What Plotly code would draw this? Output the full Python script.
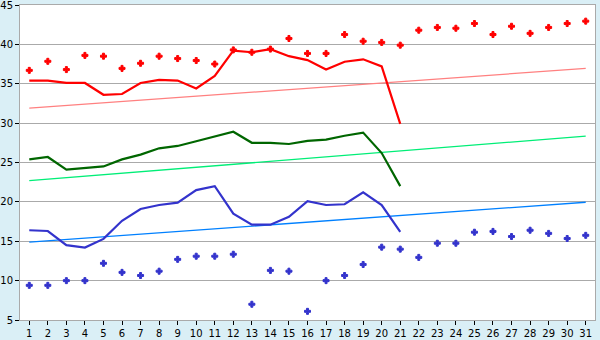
import plotly.graph_objects as go

days = list(range(1, 32))
days_line = list(range(1, 22))

red_line = [35.4, 35.4, 35.1, 35.1, 33.6, 33.7, 35.1, 35.5, 35.4, 34.4,
            36.0, 39.2, 39.0, 39.4, 38.5, 38.0, 36.8, 37.8, 38.1, 37.2, 29.9]
green_line = [25.4, 25.7, 24.1, 24.3, 24.5, 25.4, 26.0, 26.8, 27.1, 27.7,
              28.3, 28.9, 27.5, 27.5, 27.35, 27.75, 27.9, 28.4, 28.8, 26.2, 22.0]
blue_line = [16.4, 16.3, 14.5, 14.2, 15.3, 17.6, 19.1, 19.6, 19.9, 21.5,
             22.0, 18.5, 17.1, 17.1, 18.1, 20.1, 19.6, 19.7, 21.2, 19.6, 16.2]

red_points = [36.7, 37.85, 36.8, 38.6, 38.5, 36.95, 37.6, 38.5, 38.2, 37.95,
              37.5, 39.3, 39.0, 39.4, 40.75, 38.85, 38.85, 41.25, 40.4, 40.25,
              39.9, 41.8, 42.15, 42.05, 42.65, 41.25, 42.3, 41.4, 42.15, 42.65, 42.95]
blue_points = [9.4, 9.4, 10.0, 10.0, 12.2, 11.05, 10.65, 11.2, 12.7, 13.1,
               13.1, 13.35, 7.0, 11.3, 11.2, 6.1, 10.0, 10.65, 12.05, 14.25,
               14.0, 12.95, 14.75, 14.75, 16.15, 16.25, 15.6, 16.4, 16.0, 15.35, 15.75]

trend_days = [1, 31]
red_trend = [31.9, 36.95]
green_trend = [22.7, 28.35]
blue_trend = [14.9, 19.95]

fig = go.Figure()

fig.add_trace(go.Scatter(x=trend_days, y=red_trend, mode="lines",
                         line=dict(color="#ff8080", width=1.3)))
fig.add_trace(go.Scatter(x=trend_days, y=green_trend, mode="lines",
                         line=dict(color="#00ee77", width=1.3)))
fig.add_trace(go.Scatter(x=trend_days, y=blue_trend, mode="lines",
                         line=dict(color="#0080ff", width=1.3)))

fig.add_trace(go.Scatter(x=days_line, y=red_line, mode="lines",
                         line=dict(color="#ff0000", width=2.2)))
fig.add_trace(go.Scatter(x=days_line, y=green_line, mode="lines",
                         line=dict(color="#006600", width=2.2)))
fig.add_trace(go.Scatter(x=days_line, y=blue_line, mode="lines",
                         line=dict(color="#3333cc", width=2.2)))

fig.add_trace(go.Scatter(x=days, y=red_points, mode="markers",
                         marker=dict(symbol="cross", size=5, color="#ff0000",
                                     line=dict(color="#ff0000", width=1))))
fig.add_trace(go.Scatter(x=days, y=blue_points, mode="markers",
                         marker=dict(symbol="cross", size=5, color="#3333cc",
                                     line=dict(color="#3333cc", width=1))))

fig.update_layout(
    width=600, height=340,
    margin=dict(l=20, r=5, t=5, b=20, autoexpand=False),
    paper_bgcolor="#daeff6",
    plot_bgcolor="#ffffff",
    showlegend=False,
    font=dict(family="DejaVu Sans", size=10, color="#000000"),
)
fig.update_xaxes(
    range=[0.5, 31.5], tickmode="array", tickvals=days,
    ticktext=[str(d) for d in days],
    showgrid=False, zeroline=False, automargin=False,
    ticks="outside", ticklen=4, tickcolor="#000000",
    ticklabeloverflow="allow", ticklabelstandoff=0,
    showline=True, linecolor="#aaaaaa", linewidth=1, mirror=True,
)
fig.update_yaxes(
    range=[5, 45], tick0=5, dtick=5,
    showgrid=True, gridcolor="#aaaaaa", gridwidth=1, zeroline=False,
    automargin=False, ticklabeloverflow="allow",
    ticks="outside", ticklen=4, tickcolor="#000000",
    showline=True, linecolor="#aaaaaa", linewidth=1, mirror=True,
)

fig.write_html("out.html")
